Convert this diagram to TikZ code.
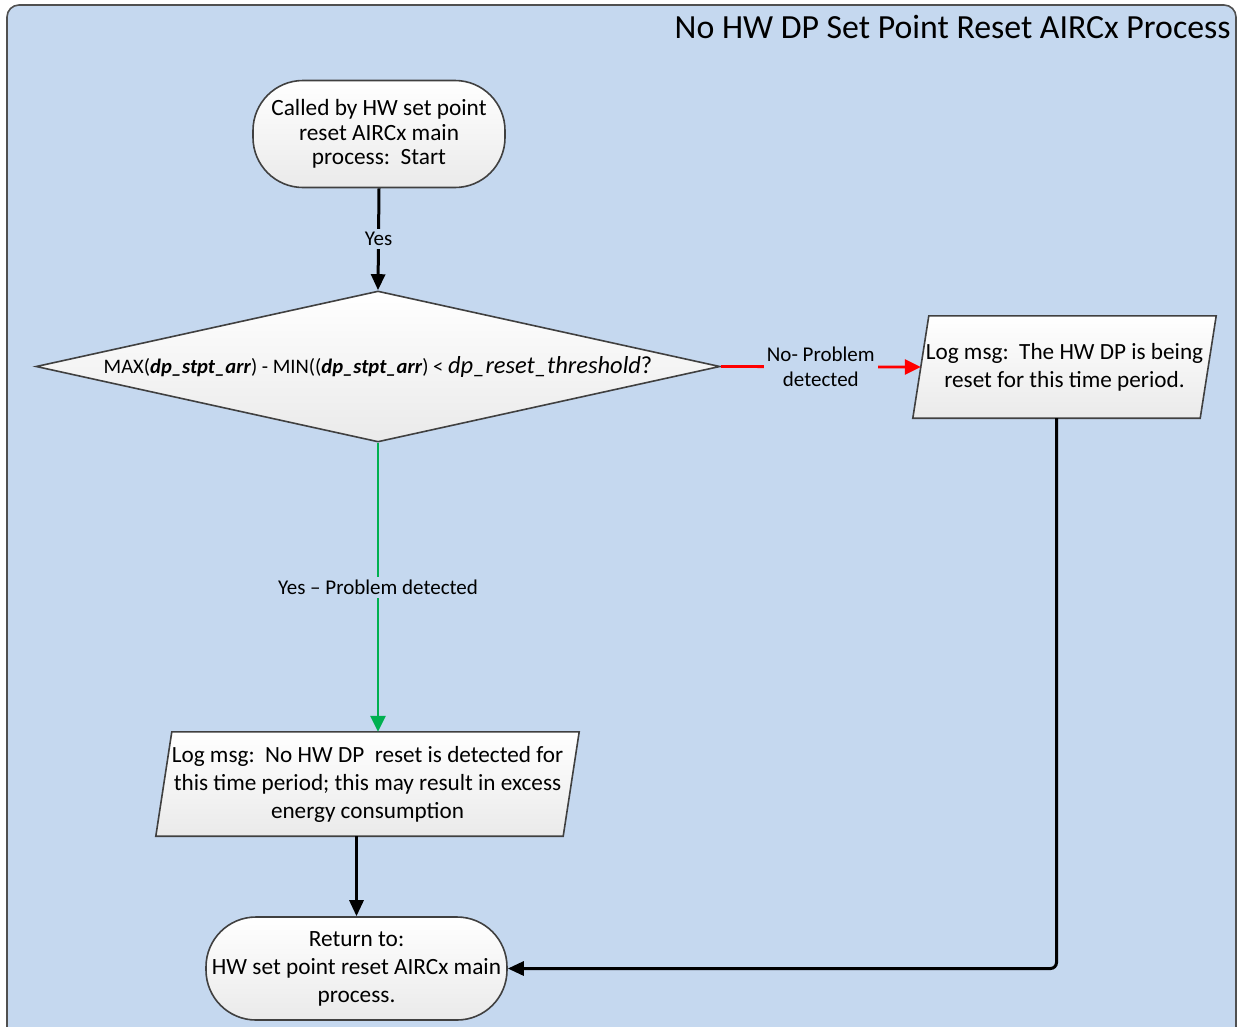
\documentclass[tikz,border=0pt]{standalone}
\usepackage{fontspec}
\setmainfont{Carlito}
\usetikzlibrary{arrows.meta,shapes.geometric}
\definecolor{bgblue}{RGB}{197,216,239}
\definecolor{framegray}{RGB}{80,80,80}
\definecolor{edgegray}{RGB}{64,64,64}
\definecolor{shadegray}{RGB}{234,234,234}
\definecolor{noRed}{RGB}{255,0,0}
\definecolor{yesGreen}{RGB}{0,176,80}
\pgfdeclarelayer{backdrop}
\pgfdeclarelayer{shapes}
\pgfsetlayers{backdrop,shapes,main}
\tikzset{
  boxfill/.style={draw=edgegray, line width=1.6pt, top color=white, bottom color=shadegray},
  terminal/.style={boxfill, rounded corners=50pt, align=center, inner sep=0pt,
    font=\fontsize{23.3}{24.5}\selectfont},
  decision/.style={boxfill, diamond, aspect=5, inner sep=0pt, align=center,
    font=\fontsize{20.6}{24}\selectfont},
  iobox/.style={inner sep=0pt, align=center, font=\fontsize{23.2}{28}\selectfont},
  flowarrow/.style={line width=3pt, -{Triangle[length=16pt,width=14pt]}},
  redarrow/.style={draw=noRed, line width=2.8pt, -{Triangle[length=16pt,width=15pt]}, noRed},
  greenarrow/.style={draw=yesGreen, line width=2.8pt, -{Triangle[length=16pt,width=15pt]}, yesGreen},
  lbl/.style={fill=bgblue, text=black, inner sep=3pt, align=center, font=\fontsize{21}{25}\selectfont}
}
\begin{document}
\begin{tikzpicture}[x=1pt,y=-1pt]
\useasboundingbox (0,0) rectangle (1241,1026);
% panel
\begin{pgfonlayer}{backdrop}
  \draw[framegray, fill=bgblue, line width=1.6pt, rounded corners=12pt] (7,5) rectangle (1236,1040);
\end{pgfonlayer}
\node[anchor=east, font=\fontsize{33.8}{38}\selectfont] (title) at (1234,27) {No HW DP Set Point Reset AIRCx Process};

% flow elements
\node[terminal, minimum width=252pt, minimum height=107pt] (start) at (379,134)
  {Called by HW set point\\reset AIRCx main\\process:\ \ Start};
\node[decision, minimum width=684pt, minimum height=151pt] (check) at (378,366.5)
  {MAX(\textbf{\textit{dp\_stpt\_arr}}) - MIN((\textbf{\textit{dp\_stpt\_arr}}) <
   {\fontsize{24.5}{25}\selectfont\textit{dp\_reset\_threshold}?}};
\node[iobox, minimum width=287pt, minimum height=102pt] (logreset) at (1064.5,367)
  {Log msg:\ \ The HW DP is being\\reset for this time period.};
\node[iobox, minimum width=407pt, minimum height=104pt] (lognone) at (367.5,784)
  {Log msg:\ \ No HW DP\ \ reset is detected for\\this time period; this may result in excess\\energy consumption};
\node[terminal, minimum width=301pt, minimum height=103pt, font=\fontsize{23.3}{28}\selectfont] (finish) at (356.5,968.5)
  {Return to:\\HW set point reset AIRCx main\\process.};

% slanted data boxes
\begin{pgfonlayer}{shapes}
  \path[boxfill] ([xshift=8pt]logreset.north west) -- ([xshift=8pt]logreset.north east)
    -- ([xshift=-8pt]logreset.south east) -- ([xshift=-8pt]logreset.south west) -- cycle;
  \path[boxfill] ([xshift=8pt]lognone.north west) -- ([xshift=8pt]lognone.north east)
    -- ([xshift=-8pt]lognone.south east) -- ([xshift=-8pt]lognone.south west) -- cycle;
\end{pgfonlayer}

% connectors
\draw[flowarrow] (start.south) -- node[lbl] {Yes} (check.north);
\draw[redarrow] (check.east) -- node[lbl] {No- Problem\\detected} (logreset.west);
\draw[greenarrow] (check.south) -- node[lbl, pos=0.5] {Yes -- Problem detected} (check.south |- lognone.north);
\draw[flowarrow] (finish.north |- lognone.south) -- (finish.north);
\draw[flowarrow, rounded corners=6pt] ([xshift=-8pt]logreset.south) |- (finish.east);
\end{tikzpicture}
\end{document}
